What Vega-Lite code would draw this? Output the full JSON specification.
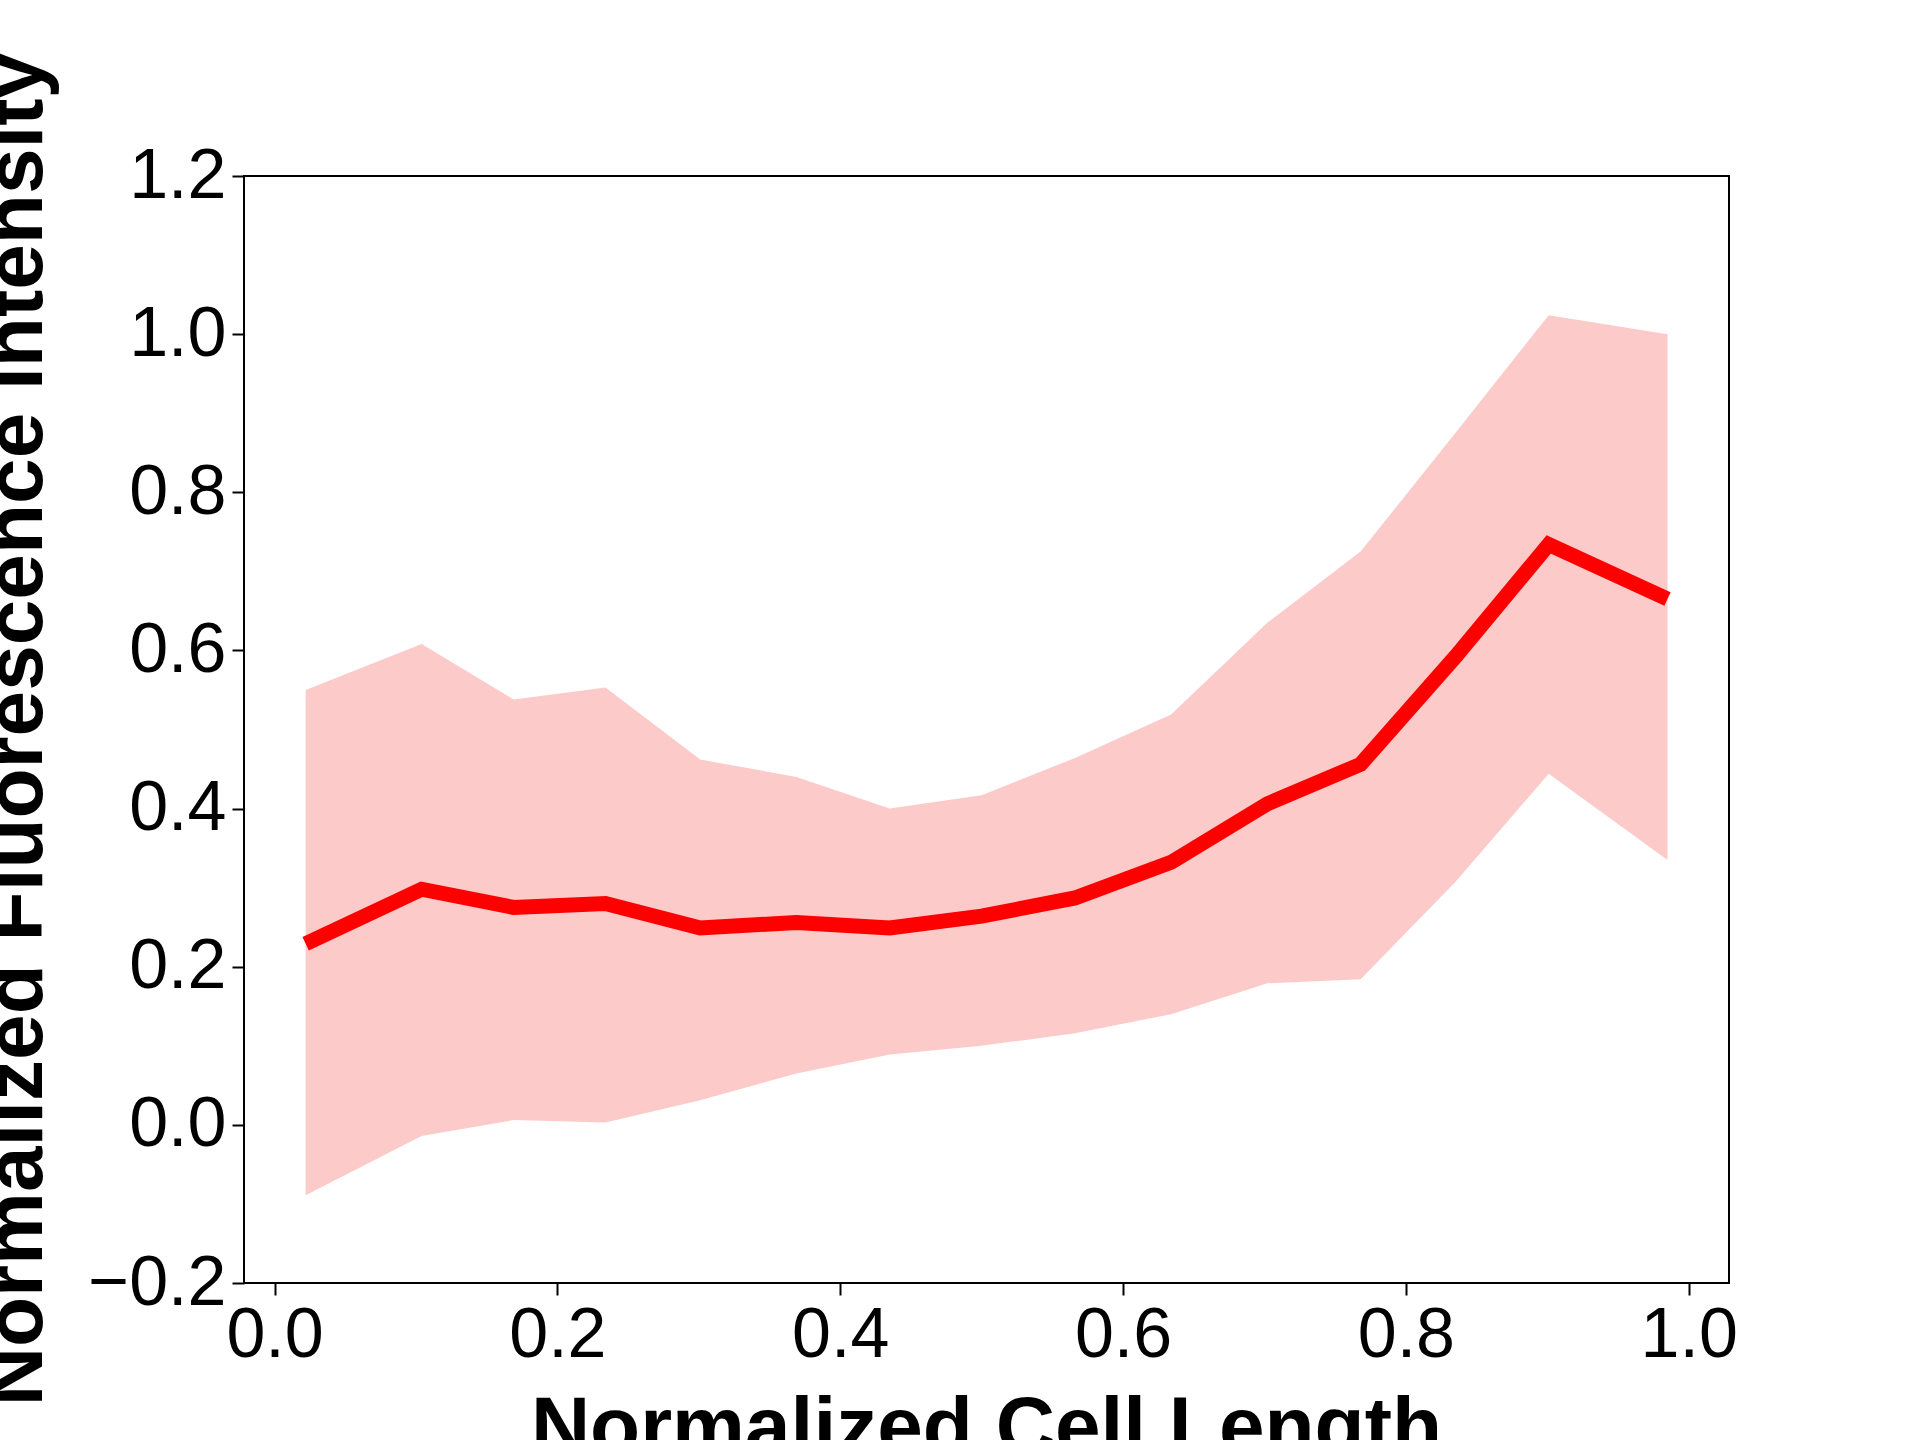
{
  "$schema": "https://vega.github.io/schema/vega-lite/v6.json",
  "autosize": "none",
  "width": 1485,
  "height": 1107,
  "padding": {"left": 244, "top": 176, "right": 191, "bottom": 157},
  "background": "white",
  "data": {
    "values": [
      {"x": 0.022, "mean": 0.229, "lo": -0.089, "hi": 0.55},
      {"x": 0.104, "mean": 0.298, "lo": -0.014, "hi": 0.608},
      {"x": 0.169, "mean": 0.275, "lo": 0.006, "hi": 0.538},
      {"x": 0.234, "mean": 0.28, "lo": 0.003, "hi": 0.553},
      {"x": 0.301, "mean": 0.249, "lo": 0.031, "hi": 0.462},
      {"x": 0.369, "mean": 0.256, "lo": 0.065, "hi": 0.44},
      {"x": 0.435, "mean": 0.249, "lo": 0.089, "hi": 0.4},
      {"x": 0.5, "mean": 0.264, "lo": 0.1, "hi": 0.417},
      {"x": 0.566, "mean": 0.287, "lo": 0.116, "hi": 0.464},
      {"x": 0.634, "mean": 0.332, "lo": 0.14, "hi": 0.519},
      {"x": 0.702, "mean": 0.406, "lo": 0.179, "hi": 0.635},
      {"x": 0.768, "mean": 0.456, "lo": 0.184, "hi": 0.725},
      {"x": 0.835, "mean": 0.592, "lo": 0.307, "hi": 0.875},
      {"x": 0.901, "mean": 0.734, "lo": 0.444, "hi": 1.024},
      {"x": 0.985, "mean": 0.665, "lo": 0.335, "hi": 1.0}
    ]
  },
  "encoding": {
    "x": {
      "field": "x", "type": "quantitative",
      "scale": {"domain": [-0.0216, 1.0285], "nice": false, "zero": false},
      "axis": {"title": "Normalized Cell Length", "values": [0, 0.2, 0.4, 0.6, 0.8, 1.0], "format": ".1f",
               "titleX": 742, "titleY": 170, "titleBaseline": "alphabetic"}
    }
  },
  "layer": [
    {
      "mark": {"type": "area", "color": "#fdcaca", "opacity": 1},
      "encoding": {
        "y": {"field": "hi", "type": "quantitative",
              "scale": {"domain": [-0.2, 1.2], "nice": false},
              "axis": {"title": "Normalized Fluorescence Intensity", "values": [-0.2, 0, 0.2, 0.4, 0.6, 0.8, 1.0, 1.2], "format": ".1f",
                       "titleX": -228, "titleY": 553, "titleBaseline": "middle"}},
        "y2": {"field": "lo"}
      }
    },
    {
      "mark": {"type": "line", "color": "#ff0000", "strokeWidth": 15},
      "encoding": {"y": {"field": "mean", "type": "quantitative"}}
    }
  ],
  "config": {
    "font": "Liberation Sans",
    "view": {"stroke": "black", "strokeWidth": 2},
    "axis": {
      "grid": false, "domain": false,
      "tickColor": "black", "tickSize": 12, "tickWidth": 2,
      "labelFont": "Liberation Sans", "labelFontSize": 70, "labelColor": "black", "labelPadding": 6,
      "titleFont": "Liberation Sans", "titleFontSize": 82, "titleFontWeight": "bold", "titleColor": "black"
    }
  }
}
